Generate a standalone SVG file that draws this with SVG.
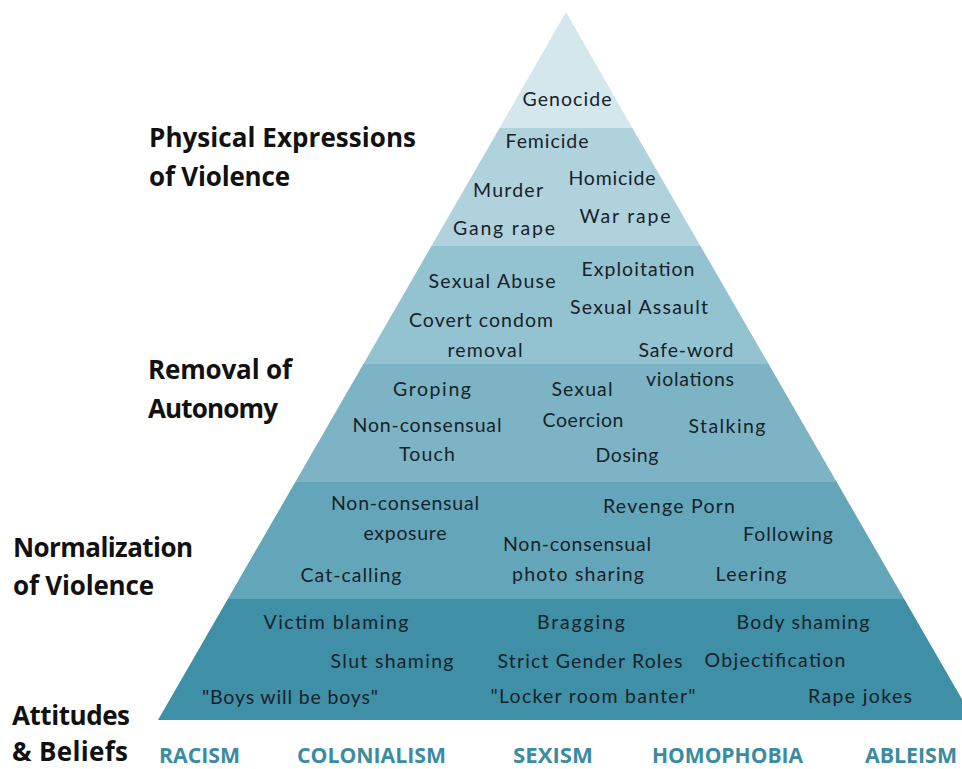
<svg xmlns="http://www.w3.org/2000/svg" width="962" height="769" viewBox="0 0 962 769">
<style>
.t{font-family:Lato,"Noto Sans",sans-serif;font-size:19.5px;fill:#18222a;text-anchor:middle}
.h{font-family:"Open Sans","Noto Sans",sans-serif;font-size:26px;font-weight:700;fill:#111}
.b{font-family:"Open Sans","Noto Sans",sans-serif;font-size:21px;font-weight:700;fill:#3b8ba1}
</style>
<rect width="962" height="769" fill="#ffffff"/>
<g id="pyramid">
<polygon id="band1" points="566,12 632.4,128 499.6,128" fill="#d4e7ed"/>
<polygon id="band2" points="499.6,128 632.4,128 700.5,246 431.5,246" fill="#b0d2dd"/>
<polygon id="band3" points="431.5,246 700.5,246 768.6,364 363.4,364" fill="#93c2d0"/>
<polygon id="band4" points="363.4,364 768.6,364 836.7,482 295.3,482" fill="#7cb4c5"/>
<polygon id="band5" points="295.3,482 836.7,482 904.2,599 227.8,599" fill="#63a6b9"/>
<polygon id="band6" points="227.8,599 904.2,599 974,720 158,720" fill="#3f8fa6"/>
</g>
<g id="physical">
<text class="t" x="567" y="106" textLength="89">Genocide</text>
<text class="t" x="547" y="148" textLength="83">Femicide</text>
<text class="t" x="612" y="185" textLength="87">Homicide</text>
<text class="t" x="508" y="197" textLength="70">Murder</text>
<text class="t" x="625" y="223" textLength="91">War rape</text>
<text class="t" x="504" y="235" textLength="102">Gang rape</text>
</g>
<g id="removal">
<text class="t" x="492" y="288" textLength="127">Sexual Abuse</text>
<text class="t" x="638" y="276" textLength="113">Exploitation</text>
<text class="t" x="639" y="314" textLength="138">Sexual Assault</text>
<text class="t" x="481" y="327" textLength="144">Covert condom</text>
<text class="t" x="485" y="357" textLength="75">removal</text>
<text class="t" x="686" y="357" textLength="95">Safe-word</text>
<text class="t" x="690" y="386" textLength="88">violations</text>
<text class="t" x="432" y="396" textLength="78">Groping</text>
<text class="t" x="582" y="396" textLength="61">Sexual</text>
<text class="t" x="427" y="432" textLength="149">Non-consensual</text>
<text class="t" x="583" y="427" textLength="81">Coercion</text>
<text class="t" x="727" y="433" textLength="77">Stalking</text>
<text class="t" x="427" y="461" textLength="56">Touch</text>
<text class="t" x="627" y="462" textLength="63">Dosing</text>
</g>
<g id="normalization">
<text class="t" x="405" y="510" textLength="148">Non-consensual</text>
<text class="t" x="669" y="513" textLength="132">Revenge Porn</text>
<text class="t" x="405" y="540" textLength="83">exposure</text>
<text class="t" x="788" y="541" textLength="90">Following</text>
<text class="t" x="577" y="551" textLength="148">Non-consensual</text>
<text class="t" x="351" y="582" textLength="101">Cat-calling</text>
<text class="t" x="578" y="581" textLength="132">photo sharing</text>
<text class="t" x="751" y="581" textLength="71">Leering</text>
</g>
<g id="attitudes">
<text class="t" x="336" y="629" textLength="145">Victim blaming</text>
<text class="t" x="581" y="629" textLength="88">Bragging</text>
<text class="t" x="803" y="629" textLength="133">Body shaming</text>
<text class="t" x="392" y="668" textLength="123">Slut shaming</text>
<text class="t" x="590" y="668" textLength="185">Strict Gender Roles</text>
<text class="t" x="775" y="667" textLength="141">Objectification</text>
<text class="t" x="290" y="704" textLength="176">"Boys will be boys"</text>
<text class="t" x="593" y="703" textLength="205">"Locker room banter"</text>
<text class="t" x="860" y="703" textLength="104">Rape jokes</text>
</g>
<g id="headings">
<text class="h" x="149" y="147" textLength="267">Physical Expressions</text>
<text class="h" x="149" y="186" textLength="141">of Violence</text>
<text class="h" x="148" y="379" textLength="144">Removal of</text>
<text class="h" x="148" y="418" textLength="130">Autonomy</text>
<text class="h" x="13" y="557" textLength="180">Normalization</text>
<text class="h" x="13" y="595" textLength="141">of Violence</text>
<text class="h" x="12" y="725" textLength="118">Attitudes</text>
<text class="h" x="12" y="761" textLength="116">&amp; Beliefs</text>
</g>
<g id="roots">
<text class="b" x="159" y="763" textLength="81" lengthAdjust="spacingAndGlyphs">RACISM</text>
<text class="b" x="297" y="763" textLength="149" lengthAdjust="spacingAndGlyphs">COLONIALISM</text>
<text class="b" x="513" y="763" textLength="80" lengthAdjust="spacingAndGlyphs">SEXISM</text>
<text class="b" x="652" y="763" textLength="151" lengthAdjust="spacingAndGlyphs">HOMOPHOBIA</text>
<text class="b" x="865" y="763" textLength="92" lengthAdjust="spacingAndGlyphs">ABLEISM</text>
</g>
</svg>
